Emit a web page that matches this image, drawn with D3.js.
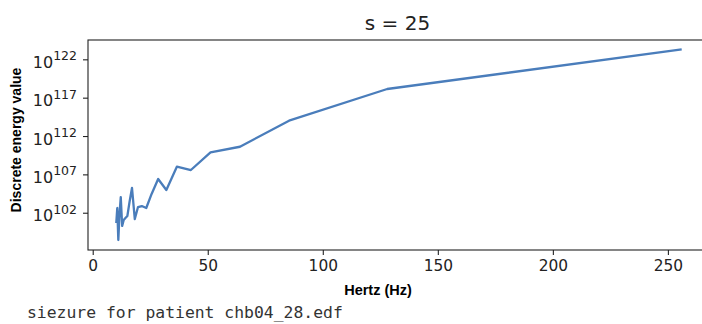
<!DOCTYPE html>
<html>
<head>
<meta charset="utf-8">
<script src="https://cdn.jsdelivr.net/npm/d3@7"></script>
<style>
  html, body { margin: 0; padding: 0; background: #fff; }
  svg { display: block; }
</style>
</head>
<body>
<div id="chart"></div>
<script>
// ---- data ----
const scalesS = [1,2,3,4,5,6,7,8,9,10,11,12,13,14,15,16,17,18,19,20,21,22,23,24,25];
const frequencies = [256, 128, 85.33, 64, 51.2, 42.67, 36.57, 32, 28.44, 25.6, 23.27, 21.33, 19.69,
                     18.29, 17.07, 16, 15.06, 14.22, 13.47, 12.8, 12.19, 11.64, 11.13, 10.67, 10.24];
const energies = [2.0e123, 1.35e118, 1.0e114, 4.0e110, 7.4e109, 3.7e107, 1.0e108, 9.1e104, 2.5e106,
                  2.8e104, 4.1e102, 7.4e102, 5.5e102, 1.5e101, 1.7e105, 2.5e103, 3.7e101, 2.0e101,
                  1.1e101, 1.9e100, 1.1e104, 6.8e101, 2.8e98, 4.1e102, 4.6e100];
const xTicks = [0, 50, 100, 150, 200, 250];
const yTickExps = [102, 107, 112, 117, 122];
const titleText = "s = 25";
const xLabel = "Hertz (Hz)";
const yLabel = "Discrete energy value";
const footText = "siezure for patient chb04_28.edf";

// ---- layout ----
const W = 702, H = 324;
const mLeft = 88, mRight = 710, mTop = 40, mBottom = 250;

const svg = d3.select("#chart").append("svg").attr("width", W).attr("height", H);

const x = d3.scaleLinear().domain([-2.05, 268.3]).range([mLeft, mRight]);
const y = d3.scaleLog().domain([Math.pow(10, 97.14), Math.pow(10, 124.52)]).range([mBottom, mTop]);

const ink = "#222";

// line
const line = d3.line().x((d, i) => x(frequencies[i])).y((d, i) => y(energies[i]));
svg.append("path")
  .datum(energies)
  .attr("d", line)
  .attr("fill", "none")
  .attr("stroke", "#4a7dbb")
  .attr("stroke-width", 2.3)
  .attr("stroke-linejoin", "round")
  .attr("stroke-linecap", "butt");

// spines
svg.append("rect")
  .attr("x", mLeft).attr("y", mTop)
  .attr("width", mRight - mLeft).attr("height", mBottom - mTop)
  .attr("fill", "none").attr("stroke", ink).attr("stroke-width", 1.1);

// x axis
const xAxis = d3.axisBottom(x).tickValues(xTicks).tickSize(5).tickPadding(5).tickFormat(d3.format("d"));
const gx = svg.append("g").attr("transform", `translate(0,${mBottom})`).call(xAxis);
gx.select(".domain").remove();
gx.selectAll("line").attr("stroke", ink).attr("stroke-width", 1.1);
gx.selectAll("text").attr("fill", ink).style("font-family", "DejaVu Sans").style("font-size", "15.4px");

// y axis
const yAxis = d3.axisLeft(y).tickValues(yTickExps.map(e => Math.pow(10, e))).tickSize(5).tickFormat(() => "");
const gy = svg.append("g").attr("transform", `translate(${mLeft},0)`).call(yAxis);
gy.select(".domain").remove();
gy.selectAll("line").attr("stroke", ink).attr("stroke-width", 1.1);
gy.selectAll(".tick").each(function(d, i) {
  const t = d3.select(this).select("text")
    .attr("x", -11).attr("dy", null).attr("y", 8)
    .attr("text-anchor", "end")
    .attr("fill", ink)
    .style("font-family", "DejaVu Sans");
  t.append("tspan").style("font-size", "16px").text("10");
  t.append("tspan").style("font-size", "12.5px").attr("dy", -7.5).text(yTickExps[i]);
});

// title
svg.append("text")
  .attr("x", 397.5).attr("y", 30)
  .attr("text-anchor", "middle")
  .attr("fill", ink)
  .style("font-family", "DejaVu Sans").style("font-size", "20px")
  .text(titleText);

// x label
svg.append("text")
  .attr("x", 378).attr("y", 295)
  .attr("text-anchor", "middle")
  .attr("fill", "#000")
  .style("font-family", "Liberation Sans").style("font-weight", "bold").style("font-size", "14.5px")
  .text(xLabel);

// y label
svg.append("text")
  .attr("transform", "translate(21,140) rotate(-90)")
  .attr("text-anchor", "middle")
  .attr("fill", "#000")
  .style("font-family", "Liberation Sans").style("font-weight", "bold").style("font-size", "14px")
  .text(yLabel);

// footer
svg.append("text")
  .attr("x", 27).attr("y", 318)
  .attr("fill", "#333")
  .style("font-family", "DejaVu Sans Mono").style("font-size", "16.4px")
  .text(footText);
</script>
</body>
</html>
